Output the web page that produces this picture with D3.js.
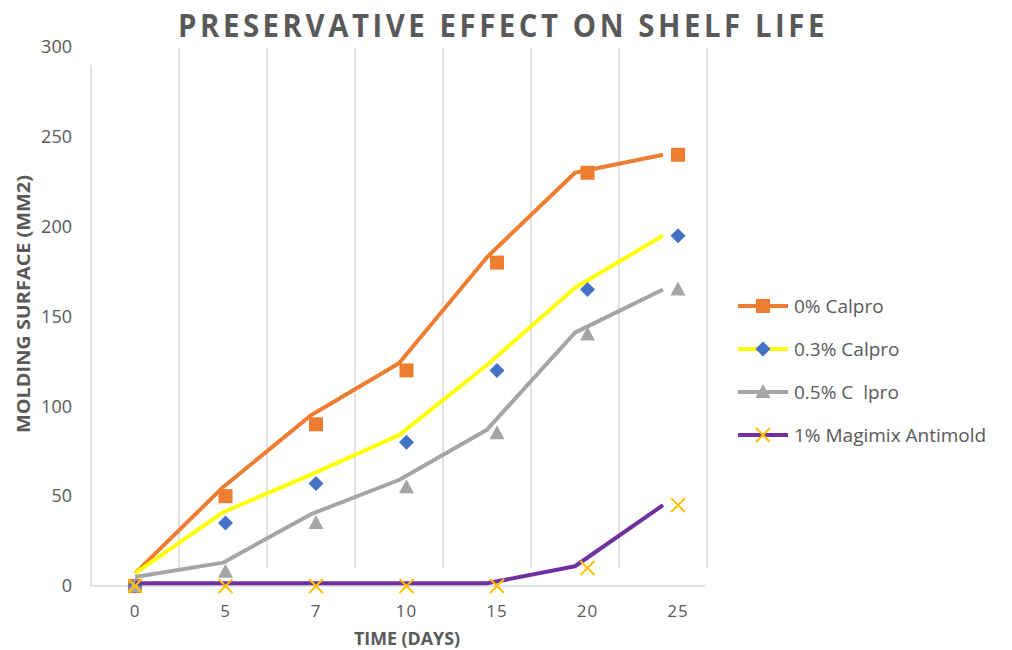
<!DOCTYPE html>
<html>
<head>
<meta charset="utf-8">
<script src="https://cdn.jsdelivr.net/npm/d3@7"></script>
<style>
  body { margin: 0; background: #fff; }
  text { font-family: "Open Sans", sans-serif; fill: #595959; }
</style>
</head>
<body>
<script>
// chart data
var days = ["0", "5", "7", "10", "15", "20", "25"];
var yTicks = [0, 50, 100, 150, 200, 250, 300];

// measured points (markers)
var calpro0 = [0, 50, 90, 120, 180, 230, 240];
var calpro03 = [0, 35, 57, 80, 120, 165, 195];
var calpro05 = [0, 8, 35, 55, 85, 140, 165];
var magimix = [0, 0, 0, 0, 0, 10, 45];

// connecting lines (drawn slightly apart from the markers)
var calpro0Line = [7, 55, 95, 124, 183, 230, 240];
var calpro03Line = [7, 41, 62, 84, 123, 166, 195];
var calpro05Line = [5, 13, 40, 59, 87, 141, 165];
var magimixLine = [1.5, 1.5, 1.5, 1.5, 1.5, 11, 45];

var seriesNames = ["0% Calpro", "0.3% Calpro", "0.5% C  lpro", "1% Magimix Antimold"];

var svgWidth = 1012;
var svgHeight = 650;

var svg = d3.select("body")
  .append("svg")
  .attr("width", svgWidth)
  .attr("height", svgHeight);

// scales
var xPlot = d3.scaleBand().domain(days).range([91, 707]);
var xMark = d3.scaleBand().domain(days).range([89.75, 723.25]);
var yScale = d3.scaleLinear().domain([0, 300]).range([586, 47]);

var series = [
  { name: seriesNames[0], pts: calpro0, line: calpro0Line, color: "#ED7D31", mcolor: "#ED7D31", shape: "square" },
  { name: seriesNames[1], pts: calpro03, line: calpro03Line, color: "#FFFF00", mcolor: "#4472C4", shape: "diamond" },
  { name: seriesNames[2], pts: calpro05, line: calpro05Line, color: "#A5A5A5", mcolor: "#A5A5A5", shape: "triangle" },
  { name: seriesNames[3], pts: magimix, line: magimixLine, color: "#7030A0", mcolor: "#FFC000", shape: "x" }
];

// vertical gridlines
var gridGroup = svg.append("g");
days.forEach(function(d, i) {
  var gx = xPlot(d) + xPlot.bandwidth();
  gridGroup.append("line")
    .attr("x1", gx).attr("x2", gx)
    .attr("y1", 48).attr("y2", 568)
    .attr("stroke", "#d9d9d9").attr("stroke-width", 1.5);
});
gridGroup.append("line")
  .attr("x1", xPlot.range()[0]).attr("x2", xPlot.range()[0])
  .attr("y1", 65).attr("y2", yScale(0))
  .attr("stroke", "#d9d9d9").attr("stroke-width", 1.5);
gridGroup.append("line")
  .attr("x1", xPlot.range()[0]).attr("x2", 705)
  .attr("y1", yScale(0)).attr("y2", yScale(0))
  .attr("stroke", "#d9d9d9").attr("stroke-width", 1.5);

// axes
var leftAxis = d3.axisLeft(yScale).tickValues(yTicks).tickSize(0).tickPadding(19);
var yAxis = svg.append("g")
  .attr("transform", "translate(91,0)")
  .call(leftAxis);
yAxis.select(".domain").remove();
yAxis.selectAll("text").style("font-size", "18px").style("font-family", "Open Sans").attr("fill", "#595959");

var bottomAxis = d3.axisBottom(xMark).tickSize(0).tickPadding(19);
var xAxis = svg.append("g")
  .attr("transform", `translate(0, ${yScale(0)})`)
  .call(bottomAxis);
xAxis.select(".domain").remove();
xAxis.selectAll("text").style("font-size", "17px").style("font-family", "Open Sans")
  .style("letter-spacing", "1px").attr("fill", "#595959");

function drawMarker(g, shape, color, cx, cy) {
  if (shape == "square") {
    g.append("rect").attr("x", cx - 7).attr("y", cy - 7).attr("width", 14).attr("height", 14).attr("fill", color);
  } else if (shape == "diamond") {
    g.append("path").attr("d", `M${cx},${cy - 7.5}L${cx + 7.5},${cy}L${cx},${cy + 7.5}L${cx - 7.5},${cy}Z`).attr("fill", color);
  } else if (shape == "triangle") {
    g.append("path").attr("d", `M${cx},${cy - 8}L${cx + 7.5},${cy + 6}L${cx - 7.5},${cy + 6}Z`).attr("fill", color);
  } else {
    g.append("path").attr("d", `M${cx - 7},${cy - 7}L${cx + 7},${cy + 7}M${cx + 7},${cy - 7}L${cx - 7},${cy + 7}`)
      .attr("stroke", color).attr("stroke-width", 2).attr("fill", "none");
  }
}

var lineGen = d3.line()
  .x((d, i) => xPlot(days[i]) + xPlot.bandwidth() / 2)
  .y(d => yScale(d));

series.forEach(function(s) {
  var g = svg.append("g");
  g.append("path")
    .attr("d", lineGen(s.line))
    .attr("fill", "none")
    .attr("stroke", s.color)
    .attr("stroke-width", 4)
    .attr("stroke-linejoin", "round");
  s.pts.forEach(function(v, i) {
    drawMarker(g, s.shape, s.mcolor, xMark(days[i]) + xMark.bandwidth() / 2, yScale(v));
  });
});

// legend
var legend = svg.append("g");
series.forEach(function(s, i) {
  var ly = 306 + i * 43;
  legend.append("line")
    .attr("x1", 738).attr("x2", 788)
    .attr("y1", ly).attr("y2", ly)
    .attr("stroke", s.color).attr("stroke-width", 4);
  drawMarker(legend, s.shape, s.mcolor, 763, ly);
  legend.append("text")
    .attr("x", 794)
    .attr("y", ly + 7)
    .attr("xml:space", "preserve")
    .style("white-space", "pre")
    .style("font-size", "19px")
    .text(s.name);
});

// title and axis labels
svg.append("text")
  .attr("x", 503).attr("y", 37)
  .attr("text-anchor", "middle")
  .attr("textLength", 650)
  .attr("lengthAdjust", "spacingAndGlyphs")
  .style("font-size", "33px")
  .style("font-weight", "bold")
  .style("letter-spacing", "4px")
  .text("PRESERVATIVE EFFECT ON SHELF LIFE");

svg.append("text")
  .attr("transform", "translate(30, 304) rotate(-90)")
  .attr("text-anchor", "middle")
  .attr("textLength", 258)
  .attr("lengthAdjust", "spacingAndGlyphs")
  .style("font-size", "18px")
  .style("font-weight", "bold")
  .text("MOLDING SURFACE (MM2)");

svg.append("text")
  .attr("x", 407).attr("y", 645)
  .attr("text-anchor", "middle")
  .attr("textLength", 106)
  .attr("lengthAdjust", "spacingAndGlyphs")
  .style("font-size", "18px")
  .style("font-weight", "bold")
  .text("TIME (DAYS)");
</script>
</body>
</html>
